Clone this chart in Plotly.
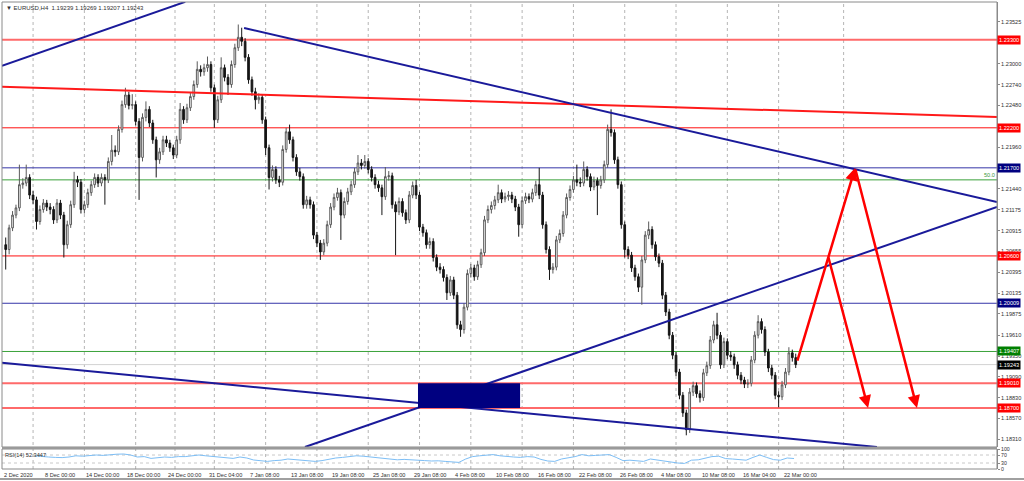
import plotly.graph_objects as go

# ---------------- DATA ----------------
# 2-bar (8h) candles of EURUSD H4
first_open = 1.2074
closes = [
    1.2068, 1.2095, 1.2111, 1.2120, 1.2149, 1.2151, 1.2158, 1.2136, 1.2130, 1.2103,
    1.2118, 1.2126, 1.2121, 1.2118, 1.2105, 1.2126, 1.2111, 1.2074, 1.2099, 1.2124,
    1.2155, 1.2152, 1.2118, 1.2124, 1.2139, 1.2149, 1.2158, 1.2151, 1.2158, 1.2155,
    1.2178, 1.2192, 1.2190, 1.2218, 1.2249, 1.2261, 1.2248, 1.2249, 1.2228, 1.2183,
    1.2233, 1.2243, 1.2226, 1.2205, 1.2180, 1.2190, 1.2205, 1.2201, 1.2195, 1.2186,
    1.2205, 1.2243, 1.2230, 1.2245, 1.2259, 1.2274, 1.2293, 1.2290, 1.2295, 1.2299,
    1.2270, 1.2230, 1.2255, 1.2295, 1.2283, 1.2274, 1.2299, 1.2320, 1.2333, 1.2328,
    1.2308, 1.2280, 1.2265, 1.2255, 1.2258, 1.2230, 1.2195, 1.2158, 1.2168, 1.2155,
    1.2152, 1.2193, 1.2215, 1.2205, 1.2183, 1.2165, 1.2159, 1.2124, 1.2130, 1.2124,
    1.2086, 1.2076, 1.2065, 1.2076, 1.2099, 1.2121, 1.2133, 1.2139, 1.2111, 1.2128,
    1.2140, 1.2149, 1.2165, 1.2176, 1.2173, 1.2178, 1.2168, 1.2158, 1.2149, 1.2145,
    1.2134, 1.2159, 1.2160, 1.2124, 1.2115, 1.2128, 1.2114, 1.2105, 1.2136, 1.2148,
    1.2136, 1.2096, 1.2089, 1.2074, 1.2078, 1.2058, 1.2046, 1.2043, 1.2033, 1.2014,
    1.2030, 1.2011, 1.1974, 1.1968, 1.1996, 1.2038, 1.2045, 1.2034, 1.2049, 1.2064,
    1.2105, 1.2118, 1.2123, 1.2130, 1.2139, 1.2131, 1.2134, 1.2136, 1.2131, 1.2121,
    1.2099, 1.2129, 1.2134, 1.2131, 1.2139, 1.2149, 1.2136, 1.2099, 1.2068, 1.2043,
    1.2046, 1.2080, 1.2088, 1.2111, 1.2133, 1.2143, 1.2155, 1.2152, 1.2151, 1.2168,
    1.2159, 1.2146, 1.2154, 1.2148, 1.2155, 1.2174, 1.2218, 1.2214, 1.2180, 1.2149,
    1.2099, 1.2068, 1.2061, 1.2045, 1.2034, 1.2021, 1.2055, 1.2086, 1.2093, 1.2074,
    1.2059, 1.2051, 1.2011, 1.1990, 1.1961, 1.1936, 1.1915, 1.1886, 1.1864, 1.1843,
    1.1890, 1.1898, 1.1888, 1.1883, 1.1914, 1.1923, 1.1955, 1.1974, 1.1961, 1.1924,
    1.1953, 1.1936, 1.1934, 1.1924, 1.1911, 1.1905, 1.1900, 1.1901, 1.1930, 1.1961,
    1.1978, 1.1968, 1.1940, 1.1920, 1.1911, 1.1886, 1.1884, 1.1899, 1.1915, 1.1939,
    1.1933, 1.19243,
]
highs = [
    1.2083, 1.2099, 1.2116, 1.2124, 1.2174, 1.2157, 1.2174, 1.2162, 1.2141, 1.2134,
    1.2123, 1.2131, 1.2130, 1.2126, 1.2122, 1.2131, 1.2130, 1.2115, 1.2104, 1.2129,
    1.2165, 1.2160, 1.2156, 1.2129, 1.2144, 1.2154, 1.2163, 1.2162, 1.2163, 1.2162,
    1.2183, 1.2211, 1.2198, 1.2223, 1.2254, 1.2270, 1.2265, 1.2262, 1.2253, 1.2232,
    1.2238, 1.2253, 1.2247, 1.2230, 1.2209, 1.2195, 1.2210, 1.2210, 1.2205, 1.2199,
    1.2210, 1.2251, 1.2247, 1.2250, 1.2264, 1.2279, 1.2303, 1.2298, 1.2300, 1.2309,
    1.2303, 1.2274, 1.2260, 1.2308, 1.2299, 1.2287, 1.2304, 1.2325, 1.2349, 1.2345,
    1.2332, 1.2312, 1.2284, 1.2270, 1.2263, 1.2262, 1.2234, 1.2199, 1.2173, 1.2172,
    1.2160, 1.2198, 1.2220, 1.2224, 1.2209, 1.2187, 1.2170, 1.2163, 1.2135, 1.2134,
    1.2128, 1.2090, 1.2080, 1.2081, 1.2104, 1.2126, 1.2138, 1.2145, 1.2143, 1.2133,
    1.2145, 1.2154, 1.2170, 1.2186, 1.2181, 1.2186, 1.2182, 1.2172, 1.2162, 1.2154,
    1.2149, 1.2171, 1.2166, 1.2164, 1.2128, 1.2133, 1.2132, 1.2118, 1.2141, 1.2153,
    1.2155, 1.2140, 1.2100, 1.2093, 1.2083, 1.2082, 1.2062, 1.2051, 1.2047, 1.2037,
    1.2035, 1.2034, 1.2015, 1.1979, 1.2001, 1.2043, 1.2050, 1.2049, 1.2054, 1.2069,
    1.2110, 1.2123, 1.2128, 1.2135, 1.2149, 1.2143, 1.2139, 1.2141, 1.2140, 1.2135,
    1.2125, 1.2134, 1.2139, 1.2138, 1.2144, 1.2154, 1.2170, 1.2140, 1.2103, 1.2072,
    1.2051, 1.2085, 1.2093, 1.2116, 1.2138, 1.2148, 1.2160, 1.2174, 1.2158, 1.2178,
    1.2172, 1.2163, 1.2159, 1.2158, 1.2160, 1.2179, 1.2224, 1.2243, 1.2218, 1.2184,
    1.2153, 1.2103, 1.2072, 1.2065, 1.2049, 1.2038, 1.2060, 1.2091, 1.2103, 1.2097,
    1.2078, 1.2063, 1.2055, 1.2015, 1.1994, 1.1965, 1.1940, 1.1919, 1.1890, 1.1868,
    1.1895, 1.1903, 1.1902, 1.1892, 1.1919, 1.1928, 1.1960, 1.1979, 1.1989, 1.1965,
    1.1958, 1.1957, 1.1941, 1.1938, 1.1928, 1.1915, 1.1909, 1.1906, 1.1935, 1.1966,
    1.1986, 1.1982, 1.1972, 1.1944, 1.1924, 1.1915, 1.1891, 1.1904, 1.1920, 1.1946,
    1.1943, 1.1938,
]
lows = [
    1.2043, 1.2062, 1.2091, 1.2107, 1.2116, 1.2144, 1.2147, 1.2131, 1.2125, 1.2093,
    1.2099, 1.2114, 1.2116, 1.2112, 1.2100, 1.2101, 1.2106, 1.2058, 1.2069, 1.2095,
    1.2120, 1.2146, 1.2113, 1.2113, 1.2120, 1.2135, 1.2145, 1.2146, 1.2147, 1.2124,
    1.2151, 1.2173, 1.2184, 1.2186, 1.2214, 1.2245, 1.2243, 1.2243, 1.2223, 1.2130,
    1.2178, 1.2228, 1.2221, 1.2200, 1.2158, 1.2175, 1.2186, 1.2196, 1.2190, 1.2181,
    1.2182, 1.2200, 1.2225, 1.2226, 1.2241, 1.2255, 1.2270, 1.2284, 1.2285, 1.2290,
    1.2265, 1.2220, 1.2226, 1.2251, 1.2278, 1.2261, 1.2270, 1.2295, 1.2316, 1.2322,
    1.2303, 1.2275, 1.2260, 1.2243, 1.2250, 1.2225, 1.2186, 1.2143, 1.2153, 1.2150,
    1.2146, 1.2148, 1.2189, 1.2200, 1.2178, 1.2160, 1.2154, 1.2119, 1.2119, 1.2119,
    1.2081, 1.2071, 1.2055, 1.2061, 1.2072, 1.2095, 1.2117, 1.2129, 1.2080, 1.2107,
    1.2124, 1.2136, 1.2145, 1.2161, 1.2168, 1.2169, 1.2163, 1.2153, 1.2144, 1.2140,
    1.2111, 1.2130, 1.2154, 1.2119, 1.2061, 1.2111, 1.2109, 1.2100, 1.2101, 1.2132,
    1.2131, 1.2091, 1.2084, 1.2069, 1.2069, 1.2053, 1.2041, 1.2038, 1.2028, 1.2005,
    1.2010, 1.2006, 1.1969, 1.1959, 1.1963, 1.1992, 1.2033, 1.2029, 1.2030, 1.2045,
    1.2060, 1.2101, 1.2113, 1.2118, 1.2126, 1.2126, 1.2127, 1.2129, 1.2126, 1.2116,
    1.2084, 1.2095, 1.2125, 1.2126, 1.2127, 1.2135, 1.2131, 1.2094, 1.2063, 1.2030,
    1.2038, 1.2042, 1.2076, 1.2084, 1.2107, 1.2129, 1.2139, 1.2147, 1.2146, 1.2147,
    1.2154, 1.2141, 1.2142, 1.2111, 1.2144, 1.2151, 1.2170, 1.2209, 1.2175, 1.2144,
    1.2094, 1.2058, 1.2056, 1.2040, 1.2029, 1.2015, 1.1999, 1.2051, 1.2081, 1.2069,
    1.2054, 1.2046, 1.2006, 1.1985, 1.1956, 1.1931, 1.1910, 1.1881, 1.1859, 1.1836,
    1.1839, 1.1885, 1.1883, 1.1877, 1.1879, 1.1910, 1.1919, 1.1951, 1.1956, 1.1919,
    1.1920, 1.1931, 1.1929, 1.1919, 1.1906, 1.1900, 1.1895, 1.1895, 1.1897, 1.1926,
    1.1957, 1.1963, 1.1935, 1.1915, 1.1906, 1.1881, 1.1871, 1.1880, 1.1895, 1.1911,
    1.1928, 1.1920,
]
bars_per_candle = 2

# RSI(14), one reading every 4 H4 bars, starting at bar 18
rsi_start_bar = 18
rsi_step = 4
rsi_values = [
    66, 62, 60, 58, 57, 60, 66, 64, 66, 70, 68, 72, 74, 75, 70, 60, 62, 53, 56, 60,
    58, 62, 62, 66, 70, 66, 63, 60, 58, 53, 60, 55, 45, 42, 38, 42, 44, 50, 47, 44,
    40, 38, 42, 50, 55, 58, 62, 66, 64, 60, 56, 55, 50, 46, 48, 47, 44, 42, 40, 41,
    38, 34, 33, 50, 62, 66, 70, 72, 66, 62, 60, 58, 62, 60, 48, 40, 38, 50, 55, 62,
    72, 66, 68, 70, 72, 58, 42, 44, 40, 38, 50, 45, 38, 32, 30, 28, 44, 46, 55, 62,
    64, 52, 50, 46, 44, 58, 70, 58, 47, 44, 55, 52.34,
]

# horizontal levels
levels = [1.23300, 1.22200, 1.21700, 1.21550, 1.20600, 1.20009, 1.19407, 1.19243, 1.19010, 1.18700]
level_kind = ["pink", "red", "blue", "green", "red", "blue", "green", "gray", "pink", "pink"]
level_labels = [1.23300, 1.22200, 1.21700, 1.20600, 1.20009, 1.19407, 1.19243, 1.19010, 1.18700]
level_label_kind = ["red", "red", "blue", "red", "blue", "green", "black", "red", "red"]
fibo_level = 1.21550
fibo_text = "50.0"

# trend lines: (bar positions, prices)
trend_top_left = ([-1.2, 106.0], [1.22975, 1.23773])
trend_red = ([-1.2, 580.7], [1.22712, 1.22335])
trend_desc = ([140.4, 580.7], [1.23446, 1.21273])
trend_asc = ([176.0, 580.7], [1.18214, 1.21211])
trend_low = ([-1.2, 510.5], [1.19265, 1.18214])
zone_bars = [242.1, 301.8]
zone_prices = [1.18700, 1.19010]
# projected arrows: (tail bar, tail price, head bar, head price)
arrows = [
    (463.7, 1.19275, 497.7, 1.21698),
    (497.7, 1.21698, 533.9, 1.18701),
    (481.9, 1.20599, 505.3, 1.18701),
]

price_ticks = [1.23525, 1.23000, 1.22740, 1.22480, 1.21960, 1.21440, 1.21175, 1.20915,
               1.20655, 1.20395, 1.20135, 1.19875, 1.19610, 1.19350, 1.19090, 1.18830,
               1.18570, 1.18310]
time_labels = ["2 Dec 2020", "8 Dec 00:00", "14 Dec 00:00", "18 Dec 00:00", "24 Dec 00:00",
               "31 Dec 04:00", "7 Jan 08:00", "13 Jan 08:00", "19 Jan 08:00", "25 Jan 08:00",
               "29 Jan 08:00", "4 Feb 08:00", "10 Feb 08:00", "16 Feb 08:00", "22 Feb 08:00",
               "26 Feb 08:00", "4 Mar 08:00", "10 Mar 08:00", "16 Mar 04:00", "22 Mar 00:00"]
time_label_bars = [0, 24, 48, 72, 96, 120, 144, 168, 192, 216, 240, 264, 288, 312, 336,
                   360, 384, 408, 432, 456]
grid_bars = [17, 47, 77, 100, 123, 153, 183, 213, 243, 273, 303, 333, 363, 393, 423, 453, 491]
title_text = "\u25bc EURUSD,H4  1.19239 1.19269 1.19207 1.19243"
rsi_text = "RSI(14) 52.3447"

# ---------------- STYLE ----------------
FONT = "Liberation Sans Narrow, Liberation Sans, Arial, sans-serif"
FS = 5.6
TXT = "#303030"
line_styles = {
    "red": dict(color="#FF1010", width=1),
    "pink": dict(color="#FF6A6A", width=2),
    "blue": dict(color="#3535A8", width=1),
    "green": dict(color="#3AA23A", width=1),
    "gray": dict(color="#D2D2D2", width=1),
}
box_colors = {"red": "#FF0000", "blue": "#000080", "green": "#008000", "black": "#000000"}
TREND_BLUE = "#1A1A9A"
X_RANGE = [-1.17, 580.7]
Y_RANGE = [1.18214, 1.23771]
W, H = 1024, 481
ML, MR, MT, MB = 2, 27, 2, 12
plot_h = H - MT - MB
main_bottom = (H - MB - 447) / plot_h
rsi_top = (H - MB - 449) / plot_h

# ---------------- FIGURE ----------------
n = len(closes)
xs = [bars_per_candle * k + 1 for k in range(n)]
opens = [first_open] + closes[:-1]

fig = go.Figure()
fig.add_trace(go.Candlestick(
    x=xs, open=opens, high=highs, low=lows, close=closes,
    increasing=dict(line=dict(color="#5A5A5A", width=1), fillcolor="#FFFFFF"),
    decreasing=dict(line=dict(color="#151515", width=1), fillcolor="#151515"),
    whiskerwidth=0, showlegend=False, hoverinfo="skip", xaxis="x", yaxis="y",
))

for (bx, py), col, wd in [
    (trend_top_left, TREND_BLUE, 2), (trend_red, "#FF1A1A", 2), (trend_desc, TREND_BLUE, 2),
    (trend_asc, TREND_BLUE, 2), (trend_low, TREND_BLUE, 2),
]:
    fig.add_trace(go.Scatter(x=bx, y=py, mode="lines", line=dict(color=col, width=wd),
                             showlegend=False, hoverinfo="skip", xaxis="x", yaxis="y"))

rsi_x = [rsi_start_bar + rsi_step * i for i in range(len(rsi_values))]
fig.add_trace(go.Scatter(x=rsi_x, y=rsi_values, mode="lines",
                         line=dict(color="#7DBEF5", width=1), showlegend=False,
                         hoverinfo="skip", xaxis="x2", yaxis="y2"))

shapes = []
for gb in grid_bars:
    shapes.append(dict(type="line", xref="x", yref="paper", x0=gb, x1=gb, y0=0, y1=1,
                       line=dict(color="#B5B5B5", width=1, dash="dot"), layer="below"))
for lv, kind in zip(levels, level_kind):
    shapes.append(dict(type="line", xref="paper", yref="y", x0=0, x1=1, y0=lv, y1=lv,
                       line=line_styles[kind], layer="below"))
shapes.append(dict(type="rect", xref="x", yref="y", x0=zone_bars[0], x1=zone_bars[1],
                   y0=zone_prices[0], y1=zone_prices[1], fillcolor="#000080",
                   line=dict(width=0), layer="above"))
for rv in (70, 30):
    shapes.append(dict(type="line", xref="paper", yref="y2", x0=0, x1=1, y0=rv, y1=rv,
                       line=dict(color="#C8C8C8", width=1, dash="dot"), layer="below"))
# frames
shapes.append(dict(type="rect", xref="paper", yref="paper", x0=0, x1=1, y0=main_bottom, y1=1,
                   line=dict(color="#8A8A8A", width=1)))
shapes.append(dict(type="rect", xref="paper", yref="paper", x0=0, x1=1, y0=0, y1=rsi_top,
                   line=dict(color="#8A8A8A", width=1)))
shapes.append(dict(type="line", xref="paper", yref="paper", x0=0, x1=1,
                   y0=(main_bottom + rsi_top) / 2, y1=(main_bottom + rsi_top) / 2,
                   line=dict(color="#9A9A9A", width=2)))
shapes.append(dict(type="line", xref="paper", yref="paper", x0=-0.01, x1=1.03,
                   y0=-10 / plot_h, y1=-10 / plot_h, line=dict(color="#A0A0A0", width=2)))

annotations = []
for tb, tp, hb, hp in arrows:
    annotations.append(dict(x=hb, y=hp, ax=tb, ay=tp, xref="x", yref="y", axref="x", ayref="y",
                            showarrow=True, arrowhead=2, arrowsize=1, arrowwidth=2.5,
                            arrowcolor="#FF0000", text=""))
for lv, kind in zip(level_labels, level_label_kind):
    annotations.append(dict(x=1, xref="paper", xanchor="left", y=lv, yref="y", yanchor="middle",
                            text=f"{lv:.5f}", showarrow=False, bgcolor=box_colors[kind],
                            font=dict(family=FONT, size=FS, color="#FFFFFF"), borderpad=1))
annotations.append(dict(x=1, xref="paper", xanchor="right", y=fibo_level, yref="y",
                        yanchor="bottom", text=fibo_text, showarrow=False,
                        font=dict(family=FONT, size=FS, color="#3C9A3C")))
annotations.append(dict(x=0, xref="paper", xanchor="left", xshift=2, y=1, yref="paper",
                        yanchor="top", yshift=-1, text=title_text, showarrow=False,
                        font=dict(family=FONT, size=FS + 0.4, color=TXT)))
annotations.append(dict(x=0, xref="paper", xanchor="left", xshift=1, y=rsi_top, yref="paper",
                        yanchor="top", yshift=-1, text=rsi_text, showarrow=False,
                        font=dict(family=FONT, size=FS, color=TXT)))
for lab, tb in zip(time_labels, time_label_bars):
    annotations.append(dict(x=tb, xref="x2", xanchor="left", xshift=-2, y=0, yref="paper",
                            yanchor="top", yshift=-1, text=lab, showarrow=False,
                            font=dict(family=FONT, size=FS, color=TXT)))

fig.update_layout(
    width=W, height=H, margin=dict(l=ML, r=MR, t=MT, b=MB, autoexpand=False),
    paper_bgcolor="#FFFFFF", plot_bgcolor="#FFFFFF", showlegend=False,
    xaxis=dict(domain=[0, 1], range=X_RANGE, anchor="y", showticklabels=False, showgrid=False,
               zeroline=False, rangeslider=dict(visible=False), fixedrange=True, ticks=""),
    xaxis2=dict(domain=[0, 1], range=X_RANGE, anchor="y2", matches="x", showticklabels=False,
                showgrid=False, zeroline=False, fixedrange=True, ticks=""),
    yaxis=dict(domain=[main_bottom, 1], range=Y_RANGE, side="right", anchor="x",
               tickvals=price_ticks, ticktext=[f"{v:.5f}" for v in price_ticks],
               tickfont=dict(family=FONT, size=FS, color=TXT), ticks="outside", ticklen=2,
               tickcolor="#8A8A8A", showgrid=False, zeroline=False, showline=True,
               linecolor="#8A8A8A", fixedrange=True),
    yaxis2=dict(domain=[0, rsi_top], range=[0, 100], side="right", anchor="x2",
                tickvals=[100, 70, 30, 0], ticktext=["100", "70", "30", "0"],
                tickfont=dict(family=FONT, size=FS - 0.4, color=TXT), ticks="outside", ticklen=2,
                tickcolor="#8A8A8A", showgrid=False, zeroline=False, showline=True,
                linecolor="#8A8A8A", fixedrange=True),
    shapes=shapes, annotations=annotations,
)

fig.write_html("out.html", config={"displayModeBar": False, "staticPlot": True},
               post_script="document.body.style.margin='0';document.body.style.overflow='hidden';")
